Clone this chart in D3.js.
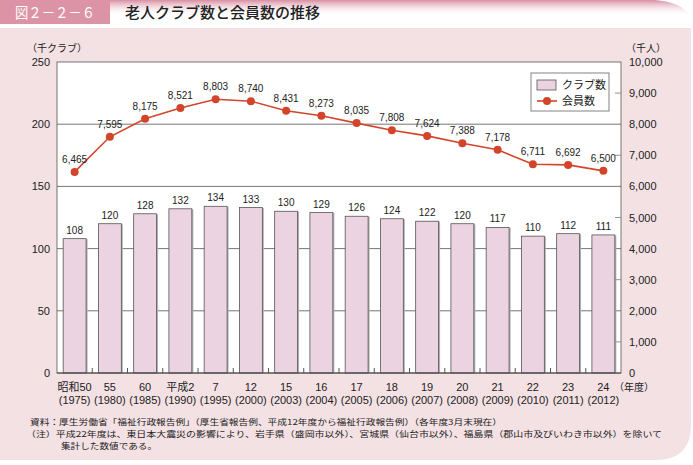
<!DOCTYPE html>
<html><head><meta charset="utf-8">
<script src="https://cdn.jsdelivr.net/npm/d3@7"></script>
<style>body{margin:0;background:#fff}svg{display:block}</style>
</head><body>
<svg id="c" width="693" height="465"></svg>
<script>
const eraLabels = ["昭和50","55","60","平成2","7","12","15","16","17","18","19","20","21","22","23","24"];
const yearLabels = ["(1975)","(1980)","(1985)","(1990)","(1995)","(2000)","(2003)","(2004)","(2005)","(2006)","(2007)","(2008)","(2009)","(2010)","(2011)","(2012)"];
const clubs = [108,120,128,132,134,133,130,129,126,124,122,120,117,110,112,111];
const members = [6465,7595,8175,8521,8803,8740,8431,8273,8035,7808,7624,7388,7178,6711,6692,6500];
const leftTicks = [0,50,100,150,200,250];
const rightTicks = [0,1000,2000,3000,4000,5000,6000,7000,8000,9000,10000];

const F = "'Liberation Sans','Noto Sans CJK JP',sans-serif";
const J = "'Noto Sans CJK JP',sans-serif";
const svg = d3.select("#c");

// background panel
const defs = svg.append("defs");
const g1 = defs.append("linearGradient").attr("id","tg").attr("x1",0).attr("x2",0).attr("y1",0).attr("y2",1);
g1.append("stop").attr("offset","0").attr("stop-color","#d98ea2");
g1.append("stop").attr("offset","1").attr("stop-color","#ffffff").attr("stop-opacity",0);
svg.append("path").attr("d",`M110,0 H655 Q682,2 690,16 V16 H110 Z`).attr("fill","url(#tg)");
svg.append("path").attr("d",`M0,28 H691 V425 Q691,460 656,460 H0 Z`).attr("fill","#f4e1e4");
svg.append("rect").attr("x",0).attr("y",0).attr("width",110).attr("height",24).attr("fill","#dc93a5");
svg.append("text").attr("x",15).attr("y",18).attr("fill","#fff").attr("font-family",J).attr("font-size",15)
  .attr("textLength",80).attr("lengthAdjust","spacingAndGlyphs").text("図２－２－６");
svg.append("text").attr("x",125).attr("y",18).attr("fill","#222").attr("font-family",J).attr("font-size",15).attr("font-weight",500).text("老人クラブ数と会員数の推移");

const m = {l:57, t:62, r:621, b:373};
const x = d3.scaleBand().domain(d3.range(eraLabels.length)).range([m.l,m.r]).paddingInner(0.35).paddingOuter(0.175);
const yL = d3.scaleLinear().domain([0,250]).range([m.b,m.t]);
const yR = d3.scaleLinear().domain([0,10000]).range([m.b,m.t]);

svg.append("rect").attr("x",m.l).attr("y",m.t).attr("width",m.r-m.l).attr("height",m.b-m.t).attr("fill","#fff");

// gridlines
svg.append("g").selectAll("line").data([50,100,150,200]).join("line")
  .attr("x1",m.l).attr("x2",m.r).attr("y1",d=>yL(d)).attr("y2",d=>yL(d))
  .attr("stroke","#666").attr("stroke-width",0.9);

// bars
const bw = x.bandwidth();
svg.append("g").selectAll("rect").data(clubs).join("rect")
  .attr("x",(d,i)=>x(i)+1.5).attr("y",d=>yL(d)+0.5).attr("width",bw).attr("height",d=>m.b-yL(d)-0.5)
  .attr("fill","#b0b0b0");
svg.append("g").selectAll("rect").data(clubs).join("rect")
  .attr("x",(d,i)=>x(i)).attr("y",d=>yL(d)).attr("width",bw).attr("height",d=>m.b-yL(d))
  .attr("fill","#ebd3e1").attr("stroke","#555").attr("stroke-width",0.8);
svg.append("g").selectAll("text").data(clubs).join("text")
  .attr("x",(d,i)=>x(i)+bw/2).attr("y",d=>yL(d)-5).attr("text-anchor","middle")
  .attr("font-family",F).attr("font-size",10).attr("fill","#222").text(d=>d);

// frame and axes
svg.append("rect").attr("x",m.l).attr("y",m.t).attr("width",m.r-m.l).attr("height",m.b-m.t)
  .attr("fill","none").attr("stroke","#666").attr("stroke-width",0.9);
svg.append("line").attr("x1",m.l).attr("x2",m.r).attr("y1",m.b).attr("y2",m.b).attr("stroke","#444").attr("stroke-width",1);

// bottom ticks at band boundaries
const step = x.step();
svg.append("g").selectAll("line").data(d3.range(1,eraLabels.length)).join("line")
  .attr("x1",i=>x(i)-x.paddingInner()*step/2).attr("x2",i=>x(i)-x.paddingInner()*step/2)
  .attr("y1",m.b).attr("y2",m.b-5).attr("stroke","#444").attr("stroke-width",0.9);

// right axis minor ticks
svg.append("g").selectAll("line").data(rightTicks.filter(d=>d%2000!==0)).join("line")
  .attr("x1",m.r-6).attr("x2",m.r).attr("y1",d=>yR(d)).attr("y2",d=>yR(d))
  .attr("stroke","#888").attr("stroke-width",0.9);

// axis labels
svg.append("g").selectAll("text").data(leftTicks).join("text")
  .attr("x",50).attr("y",d=>yL(d)+4).attr("text-anchor","end")
  .attr("font-family",F).attr("font-size",11).attr("fill","#222").text(d=>d);
svg.append("g").selectAll("text").data(rightTicks).join("text")
  .attr("x",629).attr("y",d=>yR(d)+4).attr("text-anchor","start")
  .attr("font-family",F).attr("font-size",11).attr("fill","#222").text(d=>d3.format(",")(d));
svg.append("text").attr("x",27).attr("y",52).attr("font-family",J).attr("font-size",10).attr("fill","#222").text("（千クラブ）");
svg.append("text").attr("x",626).attr("y",52).attr("font-family",J).attr("font-size",10).attr("fill","#222").text("（千人）");

svg.append("g").selectAll("text").data(eraLabels).join("text")
  .attr("x",(d,i)=>x(i)+bw/2).attr("y",391).attr("text-anchor","middle")
  .attr("font-family",F).attr("font-size",11).attr("fill","#222").text(d=>d);
svg.append("g").selectAll("text").data(yearLabels).join("text")
  .attr("x",(d,i)=>x(i)+bw/2).attr("y",404).attr("text-anchor","middle")
  .attr("font-family",F).attr("font-size",11).attr("fill","#222").text(d=>d);
svg.append("text").attr("x",614).attr("y",391).attr("font-family",J).attr("font-size",10).attr("fill","#222").text("（年度）");

// line
const lineColor = "#d2452a";
const line = d3.line().x((d,i)=>x(i)+bw/2).y(d=>yR(d));
svg.append("path").datum(members).attr("d",line).attr("fill","none").attr("stroke",lineColor).attr("stroke-width",1.6);
svg.append("g").selectAll("circle").data(members).join("circle")
  .attr("cx",(d,i)=>x(i)+bw/2).attr("cy",d=>yR(d)).attr("r",4).attr("fill",lineColor);
svg.append("g").selectAll("text").data(members).join("text")
  .attr("x",(d,i)=>x(i)+bw/2).attr("y",d=>yR(d)-9).attr("text-anchor","middle")
  .attr("font-family",F).attr("font-size",10).attr("fill","#222").text(d=>d3.format(",")(d));

// legend
const lg = svg.append("g");
lg.append("rect").attr("x",531).attr("y",73).attr("width",78).attr("height",38).attr("fill","#fff").attr("stroke","#777").attr("stroke-width",0.9);
lg.append("rect").attr("x",537).attr("y",80).attr("width",19).attr("height",10).attr("fill","#ebd3e1").attr("stroke","#555").attr("stroke-width",0.8);
lg.append("text").attr("x",562).attr("y",89).attr("font-family",J).attr("font-size",11).attr("fill","#222").text("クラブ数");
lg.append("line").attr("x1",537).attr("x2",557).attr("y1",101).attr("y2",101).attr("stroke",lineColor).attr("stroke-width",1.6);
lg.append("circle").attr("cx",547).attr("cy",101).attr("r",4).attr("fill",lineColor);
lg.append("text").attr("x",562).attr("y",105).attr("font-family",J).attr("font-size",11).attr("fill","#222").text("会員数");

// notes
const notes = [
  {x:30, y:425, t:"資料：厚生労働省「福祉行政報告例」（厚生省報告例、平成12年度から福祉行政報告例）（各年度3月末現在）", len:472},
  {x:26, y:437, t:"（注）平成22年度は、東日本大震災の影響により、岩手県（盛岡市以外）、宮城県（仙台市以外）、福島県（郡山市及びいわき市以外）を除いて", len:636},
  {x:61, y:449, t:"集計した数値である。", len:96}
];
notes.forEach(n=>{
  svg.append("text").attr("x",n.x).attr("y",n.y).attr("font-family",J).attr("font-size",8.2).attr("fill","#222")
    .attr("textLength",n.len).attr("lengthAdjust","spacingAndGlyphs").text(n.t);
});
</script>
</body></html>
